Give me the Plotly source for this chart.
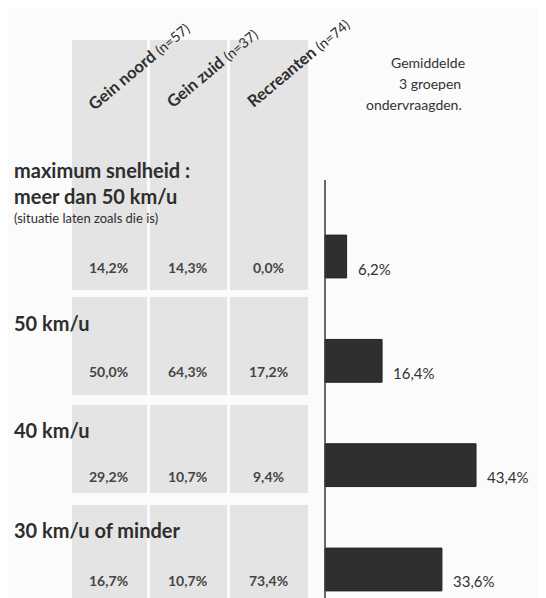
import plotly.graph_objects as go

# ---- data ----
rows = ["meer dan 50 km/u", "50 km/u", "40 km/u", "30 km/u of minder"]
groups = ["Gein noord", "Gein zuid", "Recreanten"]
group_n = [57, 37, 74]
gein_noord = [14.2, 50.0, 29.2, 16.7]
gein_zuid = [14.3, 64.3, 10.7, 10.7]
recreanten = [0.0, 17.2, 9.4, 73.4]
gemiddelde = [6.2, 16.4, 43.4, 33.6]
avg_title = ["Gemiddelde", "3 groepen", "ondervraagden."]

OFF = 8  # default page body margin
W, H = 546 - OFF, 598 - OFF
FONT = "Lato"
DARK = "#2e2e2e"


def px(x):
    return (x - OFF) / W


def py(y):
    return 1 - (y - OFF) / H


def pct(v):
    return f"{v:.1f}".replace(".", ",") + "%"


fig = go.Figure()
fig.add_trace(go.Bar(
    x=gemiddelde, y=rows, orientation="h",
    marker=dict(color="#2f2f2f", line=dict(color="#222", width=1)),
    width=0.41, hoverinfo="skip", showlegend=False,
))

shapes = []
# grey table background
col_x = [(72, 147), (150, 227), (230, 308)]
row_y = [(40, 290), (297, 395), (405, 493), (505, 598)]
for (x0, x1) in col_x:
    for (y0, y1) in row_y:
        shapes.append(dict(type="rect", xref="paper", yref="paper",
                           x0=px(x0), x1=px(x1), y0=py(y1), y1=py(y0),
                           fillcolor="#e4e4e4", line=dict(width=0), layer="below"))
# vertical axis line
shapes.append(dict(type="line", xref="x", yref="paper", x0=0, x1=0,
                   y0=0, y1=py(180), line=dict(color="#3a3a3a", width=1.5)))

ann = []
# column headers (rotated)
head_pos = [(139, 66), (212, 68), (298, 63)]
for g, n, (hx, hy) in zip(groups, group_n, head_pos):
    ann.append(dict(xref="paper", yref="paper", x=px(hx), y=py(hy),
                    text=f"<b>{g}</b> <span style='font-size:14px'>(n={n})</span>",
                    textangle=-40, showarrow=False, xanchor="center", yanchor="middle",
                    font=dict(family=FONT, size=16.5, color=DARK)))

# average title
avg_pos = [(428, 63), (430, 84), (414, 104)]
for t, (ax, ay) in zip(avg_title, avg_pos):
    ann.append(dict(xref="paper", yref="paper", x=px(ax), y=py(ay), text=t,
                    showarrow=False, xanchor="center", yanchor="middle",
                    font=dict(family=FONT, size=14, color="#333")))

# row headings
head_rows = [
    ("<b>maximum snelheid :</b>", 170, 20),
    ("<b>meer dan 50 km/u</b>", 196, 20),
    ("(situatie laten zoals die is)", 218, 13),
    ("<b>" + rows[1] + "</b>", 323, 20),
    ("<b>" + rows[2] + "</b>", 430, 20),
    ("<b>" + rows[3] + "</b>", 530, 20),
]
for t, y, s in head_rows:
    ann.append(dict(xref="paper", yref="paper", x=px(12), y=py(y), text=t,
                    showarrow=False, xanchor="left", yanchor="middle",
                    font=dict(family=FONT, size=s, color=DARK)))

# table values
val_x = [108, 187, 268]
for series, cx in zip([gein_noord, gein_zuid, recreanten], val_x):
    for r, v in zip(rows, series):
        ann.append(dict(xref="paper", yref="y", x=px(cx), y=r, yshift=-11,
                        text=f"<b>{pct(v)}</b>", showarrow=False,
                        xanchor="center", yanchor="middle",
                        font=dict(family=FONT, size=14, color="#454545")))

# bar labels
for r, v in zip(rows, gemiddelde):
    ann.append(dict(xref="x", yref="y", x=v, y=r, xshift=9, yshift=-12,
                    text=pct(v), showarrow=False, xanchor="left", yanchor="middle",
                    font=dict(family=FONT, size=15, color="#333")))

k = 3.48  # px per percent
axis_px = 325 - OFF
cat0_px = 256.5 - OFF
step = 104.33
fig.update_layout(
    width=W, height=H, margin=dict(l=0, r=0, t=0, b=0),
    paper_bgcolor="#fbfbfb", plot_bgcolor="rgba(0,0,0,0)",
    xaxis=dict(range=[-axis_px / k, (W - axis_px) / k], visible=False, fixedrange=True),
    yaxis=dict(type="category", categoryorder="array", categoryarray=rows,
               range=[(H - cat0_px) / step, -cat0_px / step], visible=False, fixedrange=True),
    shapes=shapes, annotations=ann, showlegend=False,
)
fig.write_html("out.html")
